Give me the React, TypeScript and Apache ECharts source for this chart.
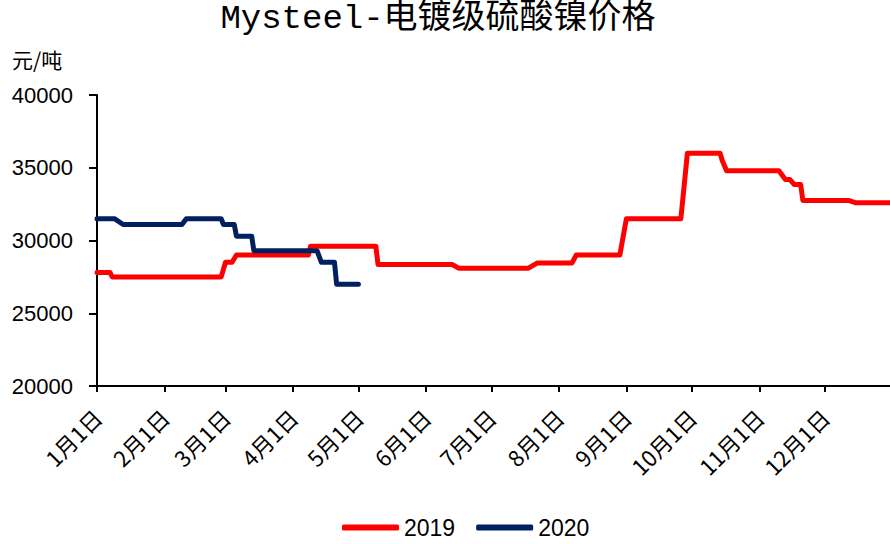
import React, { useEffect, useRef } from 'react';
import * as echarts from 'echarts';

const TITLE = 'Mysteel-电镀级硫酸镍价格';
const UNIT = '元/吨';
const SERIES_NAMES = ['2019', '2020'];
const SERIES_COLORS = ['#FF0000', '#002060'];
const MONTH_TICKS = ['01-01', '02-01', '03-01', '04-01', '05-01', '06-01', '07-01', '08-01', '09-01', '10-01', '11-01', '12-01'];
const X_START = '01-01';
const X_END = '12-31';
const Y_MIN = 20000;
const Y_MAX = 40000;
const Y_STEP = 5000;

const dates2019 = ['01-01', '01-07', '01-08', '02-27', '03-01', '03-04', '03-06', '04-08', '04-09', '05-09', '05-10', '06-13', '06-16', '07-18', '07-22', '08-07', '08-09', '08-29', '09-01', '09-26', '09-29', '10-14', '10-15', '10-17', '11-10', '11-13', '11-15', '11-17', '11-20', '11-21', '12-12', '12-15', '12-31'];
const values2019 = [27800, 27800, 27500, 27500, 28500, 28500, 29000, 29000, 29600, 29600, 28350, 28350, 28100, 28100, 28450, 28450, 29000, 29000, 31500, 31500, 36000, 36000, 35500, 34800, 34800, 34200, 34200, 33850, 33850, 32750, 32750, 32600, 32600];

const dates2020 = ['01-01', '01-09', '01-13', '02-09', '02-11', '02-27', '02-28', '03-05', '03-06', '03-13', '03-14', '04-12', '04-14', '04-20', '04-21', '05-01'];
const values2020 = [31500, 31500, 31100, 31100, 31500, 31500, 31100, 31100, 30300, 30300, 29300, 29300, 28500, 28500, 27000, 27000];

const DAY_MS = 86400000;
// day-of-year index (0 = Jan 1) on a common non-leap calendar so both years overlay
const toDay = (md: string) => {
  const [m, d] = md.split('-').map(Number);
  return Math.round((Date.UTC(2019, m - 1, d) - Date.UTC(2019, 0, 1)) / DAY_MS);
};
const dayLabel = (v: number) => {
  const dt = new Date(Date.UTC(2019, 0, 1) + Math.round(v) * DAY_MS);
  return `${dt.getUTCMonth() + 1}月${dt.getUTCDate()}日`;
};

const pairs = (dates: string[], values: number[]) => dates.map((d, i) => [toDay(d), values[i]]);

export default function App() {
  const ref = useRef<HTMLDivElement>(null);

  useEffect(() => {
    if (!ref.current) return;
    const chart = echarts.init(ref.current, undefined, { renderer: 'svg' });
    const monthTicks = MONTH_TICKS.map(toDay);
    chart.setOption({
      animation: false,
      backgroundColor: '#ffffff',
      graphic: [
        {
          type: 'text',
          x: 438,
          y: 19,
          style: {
            text: TITLE,
            fontSize: 34,
            fontFamily: "'Liberation Mono', 'Noto Sans CJK SC'",
            fill: '#000',
            textAlign: 'center',
            textVerticalAlign: 'middle',
          },
        },
        {
          type: 'text',
          x: 12,
          y: 59,
          style: {
            text: UNIT,
            fontSize: 21,
            fontFamily: "'Noto Sans CJK SC'",
            fill: '#000',
            textAlign: 'left',
            textVerticalAlign: 'middle',
          },
        },
      ],
      legend: {
        left: 337,
        top: 511,
        itemWidth: 57,
        itemHeight: 6,
        itemGap: 21,
        icon: 'roundRect',
        textStyle: { fontSize: 23, fontFamily: "'Liberation Sans'", color: '#000' },
        data: SERIES_NAMES,
      },
      grid: { left: 97, right: 0, top: 95, bottom: 158, containLabel: false },
      xAxis: {
        type: 'value',
        min: toDay(X_START),
        max: toDay(X_END),
        axisLine: { show: true, lineStyle: { color: '#000', width: 2 } },
        axisTick: { show: true, length: 6, lineStyle: { color: '#000', width: 2 }, customValues: monthTicks },
        axisLabel: {
          customValues: monthTicks,
          rotate: 45,
          margin: 27,
          fontSize: 22,
          fontFamily: "'Noto Sans CJK SC'",
          color: '#000',
          formatter: (v: number) => dayLabel(v),
        },
        splitLine: { show: false },
      },
      yAxis: {
        type: 'value',
        min: Y_MIN,
        max: Y_MAX,
        interval: Y_STEP,
        axisLine: { show: true, lineStyle: { color: '#000', width: 2 } },
        axisTick: { show: true, length: 8, lineStyle: { color: '#000', width: 2 } },
        axisLabel: { margin: 24, fontSize: 22, fontFamily: "'Liberation Sans'", color: '#000', formatter: (v: number) => String(v) },
        splitLine: { show: false },
      },
      series: [
        {
          name: SERIES_NAMES[0],
          type: 'line',
          data: pairs(dates2019, values2019),
          showSymbol: false,
          symbol: 'none',
          color: SERIES_COLORS[0],
          lineStyle: { width: 5, color: SERIES_COLORS[0], cap: 'round', join: 'round' },
          z: 2,
        },
        {
          name: SERIES_NAMES[1],
          type: 'line',
          data: pairs(dates2020, values2020),
          showSymbol: false,
          symbol: 'none',
          color: SERIES_COLORS[1],
          lineStyle: { width: 5, color: SERIES_COLORS[1], cap: 'round', join: 'round' },
          z: 3,
        },
      ],
    });
    return () => chart.dispose();
  }, []);

  return <div ref={ref} style={{ position: 'fixed', left: 0, top: 0, width: 890, height: 544 }} />;
}
